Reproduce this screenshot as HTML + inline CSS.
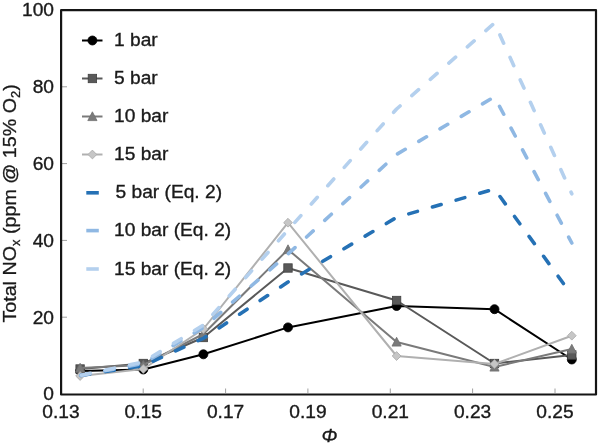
<!DOCTYPE html>
<html><head><meta charset="utf-8"><style>
html,body{margin:0;padding:0;background:#fff;}
svg{display:block;filter:blur(0.6px);}
.t{font-family:"Liberation Sans",sans-serif;font-size:18.5px;fill:#1a1a1a;stroke:#1a1a1a;stroke-width:0.35px;}
.yt{font-family:"Liberation Sans",sans-serif;font-size:19px;fill:#1a1a1a;stroke:#1a1a1a;stroke-width:0.3px;}
.xt{font-family:"Liberation Sans",sans-serif;font-size:19px;font-style:italic;fill:#1a1a1a;stroke:#1a1a1a;stroke-width:0.35px;}
</style></head><body>
<svg width="599" height="445" viewBox="0 0 599 445">
<rect width="599" height="445" fill="#fff"/>
<text transform="translate(54,400.3) scale(1.037,1)" text-anchor="end" class="t">0</text>
<line x1="62" y1="317.2" x2="67" y2="317.2" stroke="#a0a0a0" stroke-width="1"/>
<text transform="translate(54,323.5) scale(1.037,1)" text-anchor="end" class="t">20</text>
<line x1="62" y1="240.4" x2="67" y2="240.4" stroke="#a0a0a0" stroke-width="1"/>
<text transform="translate(54,246.7) scale(1.037,1)" text-anchor="end" class="t">40</text>
<line x1="62" y1="163.6" x2="67" y2="163.6" stroke="#a0a0a0" stroke-width="1"/>
<text transform="translate(54,169.9) scale(1.037,1)" text-anchor="end" class="t">60</text>
<line x1="62" y1="86.8" x2="67" y2="86.8" stroke="#a0a0a0" stroke-width="1"/>
<text transform="translate(54,93.1) scale(1.037,1)" text-anchor="end" class="t">80</text>
<text transform="translate(54,16.3) scale(1.037,1)" text-anchor="end" class="t">100</text>
<text transform="translate(60.9,417.5) scale(1.037,1)" text-anchor="middle" class="t">0.13</text>
<line x1="143.2" y1="393" x2="143.2" y2="388.5" stroke="#a0a0a0" stroke-width="1"/>
<text transform="translate(143.2,417.5) scale(1.037,1)" text-anchor="middle" class="t">0.15</text>
<line x1="225.6" y1="393" x2="225.6" y2="388.5" stroke="#a0a0a0" stroke-width="1"/>
<text transform="translate(225.6,417.5) scale(1.037,1)" text-anchor="middle" class="t">0.17</text>
<line x1="307.9" y1="393" x2="307.9" y2="388.5" stroke="#a0a0a0" stroke-width="1"/>
<text transform="translate(307.9,417.5) scale(1.037,1)" text-anchor="middle" class="t">0.19</text>
<line x1="390.3" y1="393" x2="390.3" y2="388.5" stroke="#a0a0a0" stroke-width="1"/>
<text transform="translate(390.3,417.5) scale(1.037,1)" text-anchor="middle" class="t">0.21</text>
<line x1="472.6" y1="393" x2="472.6" y2="388.5" stroke="#a0a0a0" stroke-width="1"/>
<text transform="translate(472.6,417.5) scale(1.037,1)" text-anchor="middle" class="t">0.23</text>
<line x1="555.0" y1="393" x2="555.0" y2="388.5" stroke="#a0a0a0" stroke-width="1"/>
<text transform="translate(555.0,417.5) scale(1.037,1)" text-anchor="middle" class="t">0.25</text>
<polyline points="80.1,371.0 143.3,369.5 203.4,354.3 288.0,327.4 396.6,306.0 494.5,309.2 571.8,359.5" fill="none" stroke="#000000" stroke-width="2" stroke-linejoin="round"/>
<circle cx="80.1" cy="371" r="4.5" fill="#000" stroke="#000" stroke-width="0.8"/>
<circle cx="143.3" cy="369.5" r="4.5" fill="#000" stroke="#000" stroke-width="0.8"/>
<circle cx="203.4" cy="354.3" r="4.5" fill="#000" stroke="#000" stroke-width="0.8"/>
<circle cx="288.0" cy="327.4" r="4.5" fill="#000" stroke="#000" stroke-width="0.8"/>
<circle cx="396.6" cy="306" r="4.5" fill="#000" stroke="#000" stroke-width="0.8"/>
<circle cx="494.5" cy="309.2" r="4.5" fill="#000" stroke="#000" stroke-width="0.8"/>
<circle cx="571.8" cy="359.5" r="4.5" fill="#000" stroke="#000" stroke-width="0.8"/>
<polyline points="80.1,369.0 143.3,363.5 203.4,337.5 288.0,268.0 396.6,300.5 494.5,363.5 571.8,355.0" fill="none" stroke="#595959" stroke-width="2" stroke-linejoin="round"/>
<rect x="75.9" y="364.8" width="8.4" height="8.4" fill="#595959" stroke="#404040" stroke-width="0.8"/>
<rect x="139.1" y="359.3" width="8.4" height="8.4" fill="#595959" stroke="#404040" stroke-width="0.8"/>
<rect x="199.2" y="333.3" width="8.4" height="8.4" fill="#595959" stroke="#404040" stroke-width="0.8"/>
<rect x="283.8" y="263.8" width="8.4" height="8.4" fill="#595959" stroke="#404040" stroke-width="0.8"/>
<rect x="392.4" y="296.3" width="8.4" height="8.4" fill="#595959" stroke="#404040" stroke-width="0.8"/>
<rect x="490.3" y="359.3" width="8.4" height="8.4" fill="#595959" stroke="#404040" stroke-width="0.8"/>
<rect x="567.6" y="350.8" width="8.4" height="8.4" fill="#595959" stroke="#404040" stroke-width="0.8"/>
<polyline points="80.1,368.0 143.3,365.0 203.4,334.0 288.0,249.5 396.6,342.0 494.5,367.0 571.8,349.0" fill="none" stroke="#7a7a7a" stroke-width="2" stroke-linejoin="round"/>
<path d="M80.1,363.3 L84.69999999999999,372.1 L75.5,372.1 Z" fill="#7a7a7a" stroke="#707070" stroke-width="0.8"/>
<path d="M143.3,360.3 L147.9,369.1 L138.70000000000002,369.1 Z" fill="#7a7a7a" stroke="#707070" stroke-width="0.8"/>
<path d="M203.4,329.3 L208.0,338.1 L198.8,338.1 Z" fill="#7a7a7a" stroke="#707070" stroke-width="0.8"/>
<path d="M288.0,244.8 L292.6,253.6 L283.4,253.6 Z" fill="#7a7a7a" stroke="#707070" stroke-width="0.8"/>
<path d="M396.6,337.3 L401.20000000000005,346.1 L392.0,346.1 Z" fill="#7a7a7a" stroke="#707070" stroke-width="0.8"/>
<path d="M494.5,362.3 L499.1,371.1 L489.9,371.1 Z" fill="#7a7a7a" stroke="#707070" stroke-width="0.8"/>
<path d="M571.8,344.3 L576.4,353.1 L567.1999999999999,353.1 Z" fill="#7a7a7a" stroke="#707070" stroke-width="0.8"/>
<polyline points="80.1,376.0 143.3,369.0 203.4,329.0 288.0,222.7 396.6,356.0 494.5,364.0 571.8,335.7" fill="none" stroke="#b0b0b0" stroke-width="2" stroke-linejoin="round"/>
<path d="M80.1,371.6 L84.5,376 L80.1,380.4 L75.69999999999999,376 Z" fill="#c6c6c6" stroke="#a8a8a8" stroke-width="0.8"/>
<path d="M143.3,364.6 L147.70000000000002,369 L143.3,373.4 L138.9,369 Z" fill="#c6c6c6" stroke="#a8a8a8" stroke-width="0.8"/>
<path d="M203.4,324.6 L207.8,329 L203.4,333.4 L199.0,329 Z" fill="#c6c6c6" stroke="#a8a8a8" stroke-width="0.8"/>
<path d="M288.0,218.29999999999998 L292.4,222.7 L288.0,227.1 L283.6,222.7 Z" fill="#c6c6c6" stroke="#a8a8a8" stroke-width="0.8"/>
<path d="M396.6,351.6 L401.0,356 L396.6,360.4 L392.20000000000005,356 Z" fill="#c6c6c6" stroke="#a8a8a8" stroke-width="0.8"/>
<path d="M494.5,359.6 L498.9,364 L494.5,368.4 L490.1,364 Z" fill="#c6c6c6" stroke="#a8a8a8" stroke-width="0.8"/>
<path d="M571.8,331.3 L576.1999999999999,335.7 L571.8,340.09999999999997 L567.4,335.7 Z" fill="#c6c6c6" stroke="#a8a8a8" stroke-width="0.8"/>
<polyline points="80.1,375.5 143.3,365.7 203.4,338.3 288.0,282.0 396.6,217.4 494.5,189.0 571.8,295.0" fill="none" stroke="#2571b5" stroke-width="3.6" stroke-dasharray="9.0 15.65" stroke-dashoffset="23.73" stroke-linecap="round" stroke-linejoin="round"/>
<polyline points="80.1,375.5 143.3,363.5 203.4,327.5 288.0,254.0 396.6,154.4 494.5,96.8 571.8,243.0" fill="none" stroke="#8fb8e3" stroke-width="3.6" stroke-dasharray="9.0 15.65" stroke-dashoffset="24.17" stroke-linecap="round" stroke-linejoin="round"/>
<polyline points="80.1,375.5 143.3,362.0 203.4,325.0 288.0,230.0 396.6,109.0 494.5,23.0 571.8,193.8" fill="none" stroke="#b4d0ee" stroke-width="3.6" stroke-dasharray="9.0 15.65" stroke-dashoffset="23.13" stroke-linecap="round" stroke-linejoin="round"/>
<path d="M61.1,10.2 L596,10.2 L596,394.5 L61.1,394.5 Z" fill="none" stroke="#151515" stroke-width="2.2" stroke-linejoin="round"/>
<line x1="82" y1="40.5" x2="102.5" y2="40.5" stroke="#000000" stroke-width="2"/>
<circle cx="92.4" cy="40.5" r="4.5" fill="#000" stroke="#000" stroke-width="0.8"/>
<text transform="translate(114,46.0) scale(1.037,1)" class="t">1 bar</text>
<line x1="82" y1="78.5" x2="102.5" y2="78.5" stroke="#595959" stroke-width="2"/>
<rect x="88.2" y="74.3" width="8.4" height="8.4" fill="#595959" stroke="#404040" stroke-width="0.8"/>
<text transform="translate(114,84.0) scale(1.037,1)" class="t">5 bar</text>
<line x1="82" y1="116.5" x2="102.5" y2="116.5" stroke="#7a7a7a" stroke-width="2"/>
<path d="M92.4,111.8 L97.0,120.6 L87.80000000000001,120.6 Z" fill="#7a7a7a" stroke="#707070" stroke-width="0.8"/>
<text transform="translate(114,122.0) scale(1.037,1)" class="t">10 bar</text>
<line x1="82" y1="154.5" x2="102.5" y2="154.5" stroke="#b0b0b0" stroke-width="2"/>
<path d="M92.4,150.1 L96.80000000000001,154.5 L92.4,158.9 L88.0,154.5 Z" fill="#c6c6c6" stroke="#a8a8a8" stroke-width="0.8"/>
<text transform="translate(114,160.0) scale(1.037,1)" class="t">15 bar</text>
<line x1="86.3" y1="192.8" x2="98.8" y2="192.8" stroke="#2571b5" stroke-width="3.6" stroke-linecap="butt"/>
<text transform="translate(115.5,198.3) scale(1.037,1)" class="t">5 bar (Eq. 2)</text>
<line x1="86.3" y1="230.6" x2="98.8" y2="230.6" stroke="#8fb8e3" stroke-width="3.6" stroke-linecap="butt"/>
<text transform="translate(114,236.1) scale(1.037,1)" class="t">10 bar (Eq. 2)</text>
<line x1="86.3" y1="269" x2="98.8" y2="269" stroke="#b4d0ee" stroke-width="3.6" stroke-linecap="butt"/>
<text transform="translate(114,274.5) scale(1.037,1)" class="t">15 bar (Eq. 2)</text>
<text class="yt" transform="translate(15.6,322.6) rotate(-90) scale(1.037,1)">Total NO<tspan dy="4" font-size="12.5">x</tspan><tspan dy="-4"> (ppm @ 15% O</tspan><tspan dy="4" font-size="12.5">2</tspan><tspan dy="-4">)</tspan></text>
<text x="329.5" y="441.6" text-anchor="middle" class="xt">Φ</text>
</svg>
</body></html>
